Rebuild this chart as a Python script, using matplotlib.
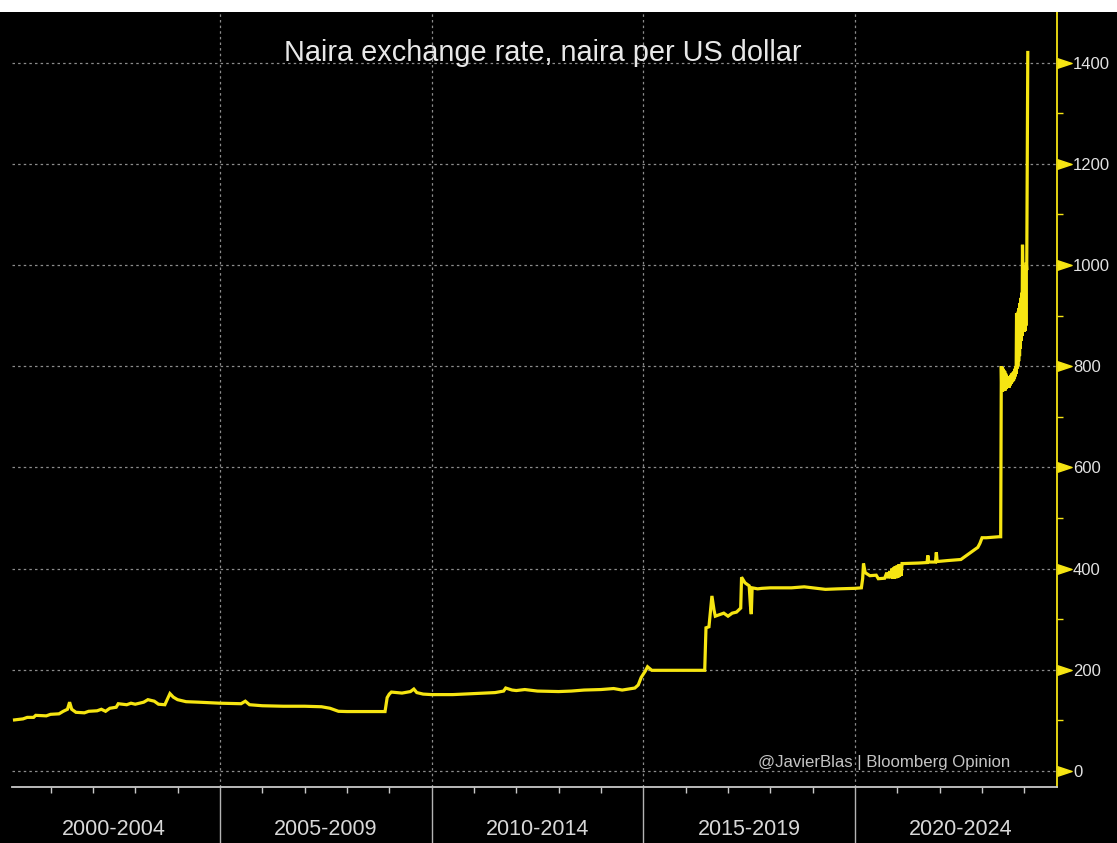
import matplotlib.pyplot as plt
from matplotlib.patches import Rectangle
from matplotlib.transforms import blended_transform_factory
from matplotlib.ticker import FixedLocator, NullFormatter

# naira per US dollar (decimal year, rate)
years = [
    2000.15, 2000.35, 2000.45, 2000.6, 2000.65, 2000.9, 2001.0, 2001.2, 2001.3, 2001.4,
    2001.45, 2001.5, 2001.6, 2001.8, 2001.9, 2002.1, 2002.2, 2002.3, 2002.4, 2002.55,
    2002.6, 2002.8, 2002.9, 2003.0, 2003.2, 2003.3, 2003.45, 2003.55, 2003.7, 2003.75,
    2003.82, 2003.9, 2004.0, 2004.2, 2004.5, 2005.0, 2005.5, 2005.6, 2005.7, 2006.0,
    2006.5, 2007.0, 2007.4, 2007.6, 2007.8, 2008.0, 2008.9, 2008.95, 2009.0, 2009.05,
    2009.3, 2009.5, 2009.58, 2009.65, 2009.8, 2010.0, 2010.5, 2011.0, 2011.5, 2011.7,
    2011.75, 2011.9, 2012.0, 2012.2, 2012.5, 2013.0, 2013.3, 2013.6, 2014.0, 2014.3,
    2014.5, 2014.8, 2014.88, 2014.95, 2015.05, 2015.1, 2015.2, 2015.5, 2016.0, 2016.45,
    2016.48, 2016.55, 2016.58, 2016.62, 2016.67, 2016.7, 2016.9, 2017.0, 2017.1, 2017.2,
    2017.3, 2017.32, 2017.4, 2017.5, 2017.53, 2017.55, 2017.57, 2017.7, 2017.8, 2018.0,
    2018.5, 2018.8, 2019.0, 2019.3, 2019.6, 2020.0, 2020.15, 2020.18, 2020.2, 2020.24,
    2020.35, 2020.5, 2020.55, 2020.7, 2020.75, 2020.78, 2020.82, 2020.85, 2020.87, 2020.89,
    2020.91, 2020.93, 2020.95, 2020.97, 2020.99, 2021.01, 2021.03, 2021.05, 2021.07, 2021.09,
    2021.11, 2021.15, 2021.5, 2021.7, 2021.72, 2021.74, 2021.9, 2021.92, 2021.94, 2022.2,
    2022.5, 2022.6, 2022.7, 2022.8, 2022.9, 2022.95, 2023.0, 2023.1, 2023.4, 2023.44,
    2023.455, 2023.465, 2023.475, 2023.485, 2023.495, 2023.505, 2023.515, 2023.525, 2023.535, 2023.545,
    2023.555, 2023.565, 2023.575, 2023.585, 2023.595, 2023.605, 2023.615, 2023.625, 2023.635, 2023.645,
    2023.655, 2023.665, 2023.675, 2023.685, 2023.695, 2023.705, 2023.715, 2023.725, 2023.735, 2023.745,
    2023.755, 2023.765, 2023.775, 2023.785, 2023.795, 2023.805, 2023.815, 2023.825, 2023.835, 2023.845,
    2023.855, 2023.865, 2023.875, 2023.885, 2023.895, 2023.905, 2023.915, 2023.925, 2023.935, 2023.945,
    2023.955, 2023.965, 2023.975, 2023.985, 2023.995, 2024.005, 2024.015, 2024.025, 2024.035, 2024.045,
    2024.055, 2024.08,
]
rates = [
    101, 103, 106, 106, 110, 109, 112, 113, 118, 122,
    136, 122, 116, 115, 118, 119, 122, 118, 124, 126,
    133, 131, 134, 132, 136, 141, 138, 132, 131, 140,
    153, 146, 141, 137, 136, 134, 133, 138, 131, 129,
    128, 128, 127, 124, 118, 117.5, 117.5, 145, 152, 156,
    154, 157, 162, 155, 152, 151, 151, 153, 155, 158,
    164, 160, 159, 161, 158, 157, 158, 160, 161, 163,
    160, 164, 170, 185, 198, 206, 199, 199, 199, 199,
    283, 285, 312, 346, 318, 306, 312, 306, 312, 314,
    322, 383, 372, 366, 326, 310, 362, 360, 361, 362,
    362, 364, 362, 359, 360, 361, 362, 380, 410, 392,
    386, 387, 380, 381, 392, 381, 395, 381, 400, 380,
    402, 380, 405, 381, 406, 382, 408, 384, 409, 386,
    410, 410, 411, 412, 426, 413, 413, 432, 414, 416,
    418, 424, 430, 436, 442, 450, 461, 461, 463, 463,
    800, 752, 798, 750, 795, 752, 792, 755, 790, 752,
    786, 755, 783, 757, 780, 758, 778, 760, 776, 758,
    778, 762, 782, 765, 785, 768, 786, 770, 788, 772,
    790, 776, 795, 780, 800, 785, 905, 795, 905, 800,
    908, 810, 915, 820, 925, 835, 935, 850, 945, 860,
    1040, 985, 870, 990, 868, 995, 870, 1000, 880, 1005,
    990, 1420,
]

period_labels = ['2000-2004', '2005-2009', '2010-2014', '2015-2019', '2020-2024']
period_centres = [2002.5, 2007.5, 2012.5, 2017.5, 2022.5]
value_ticks = [0, 200, 400, 600, 800, 1000, 1200, 1400]
minor_value_ticks = [100, 300, 500, 700, 900, 1100, 1300]

YELLOW = '#f6e512'
GRID = '#8c8c8c'
FONT = ['Liberation Sans', 'DejaVu Sans']

W, H = 1117, 843
fig = plt.figure(figsize=(W / 100, H / 100), dpi=100, facecolor='black')
ax = fig.add_axes([12 / W, 56 / H, 1045 / W, 775 / H])
ax.set_facecolor('black')

# white strip above the chart, as in the screenshot
fig.patches.append(Rectangle((0, 831 / H), 1, 12 / H, transform=fig.transFigure,
                             facecolor='white', edgecolor='none'))

ax.plot(years, rates, color=YELLOW, lw=2.3, solid_joinstyle='miter', zorder=3)

ax.set_xlim(2000.09, 2024.77)
ax.set_ylim(-31.6, 1500)

# x axis: yearly ticks, long separators every five years
ax.xaxis.set_major_locator(FixedLocator([2005, 2010, 2015, 2020]))
ax.xaxis.set_minor_locator(FixedLocator(range(2001, 2025)))
ax.xaxis.set_major_formatter(NullFormatter())
ax.tick_params(axis='x', which='major', length=42, width=1, color='#b4b4b4', direction='out')
ax.tick_params(axis='x', which='minor', length=4.5, width=1, color='#c8c8c8', direction='out')

# y axis on the right
ax.yaxis.tick_right()
ax.set_yticks(value_ticks)
ax.set_yticks(minor_value_ticks, minor=True)
ax.tick_params(axis='y', which='major', length=0, pad=11.5, labelsize=12,
               labelcolor='#e2e2e2')
ax.tick_params(axis='y', which='minor', length=4, width=1, color=YELLOW, direction='out')
for lab in ax.get_yticklabels():
    lab.set_family(FONT)

trans_right = blended_transform_factory(ax.transAxes, ax.transData)
ax.plot([1] * len(value_ticks), value_ticks, ls='none', transform=trans_right,
        marker=[(0, -1), (3, 0), (0, 1)], markersize=21, color=YELLOW, clip_on=False)

for side in ['left', 'top']:
    ax.spines[side].set_visible(False)
ax.spines['right'].set_color(YELLOW)
ax.spines['right'].set_linewidth(1.3)
ax.spines['bottom'].set_color('#c8c8c8')
ax.spines['bottom'].set_linewidth(1.3)

ax.grid(True, which='major', color=GRID, ls=(0, (2, 2.5)), lw=0.9)
ax.set_axisbelow(True)

trans_bottom = blended_transform_factory(ax.transData, ax.transAxes)
for centre, label in zip(period_centres, period_labels):
    ax.text(centre, -0.055, label, transform=trans_bottom, ha='center', va='center',
            fontsize=15.5, color='#d8d8d8', family=FONT)

trans_mixed = blended_transform_factory(ax.transAxes, ax.transData)
ax.text(0.508, 1404, 'Naira exchange rate, naira per US dollar', transform=trans_mixed,
        ha='center', va='baseline', fontsize=20.8, color='#e8e8e8', family=FONT)
ax.text(0.955, 8, '@JavierBlas | Bloomberg Opinion', transform=trans_mixed,
        ha='right', va='baseline', fontsize=12.1, color='#c4c4c4', family=FONT)

fig.savefig('out.png', dpi=100, facecolor='black')
